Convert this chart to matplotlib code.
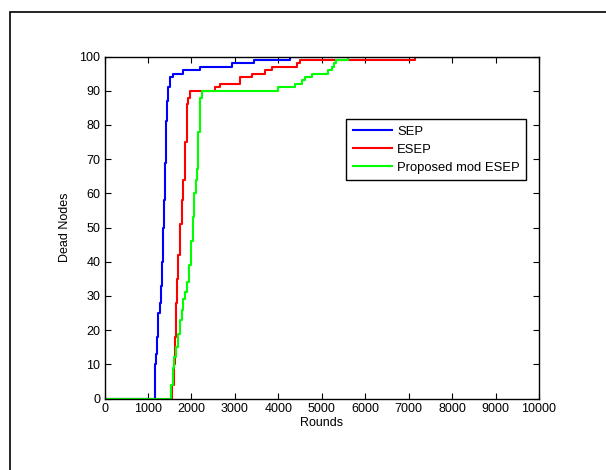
import matplotlib
matplotlib.use("Agg")
import matplotlib.pyplot as plt
from matplotlib.patches import Rectangle

plt.rcParams['font.family'] = ['Liberation Sans', 'DejaVu Sans']

# Step data: number of dead nodes from the given round onward
sep_rounds = [0, 1160, 1185, 1205, 1240, 1280, 1300, 1320, 1340, 1370, 1395, 1420,
              1445, 1470, 1505, 1585, 1815, 2200, 2930, 3440, 4270, 10000]
sep_dead = [0, 10, 13, 18, 25, 28, 33, 40, 50, 58, 69, 81,
            87, 91, 94, 95, 96, 97, 98, 99, 100, 100]

esep_rounds = [0, 1550, 1600, 1625, 1645, 1660, 1700, 1740, 1775, 1815, 1855, 1890,
               1930, 1970, 2545, 2660, 3130, 3390, 3695, 3850, 4425, 4500, 7150, 10000]
esep_dead = [0, 4, 10, 18, 28, 35, 42, 51, 58, 64, 75, 86,
             88, 90, 91, 92, 94, 95, 96, 97, 98, 99, 100, 100]

prop_rounds = [0, 1520, 1570, 1600, 1645, 1700, 1740, 1775, 1815, 1855, 1890, 1955,
               1985, 2030, 2065, 2105, 2125, 2160, 2200, 2240, 4000, 4390, 4540, 4620,
               4770, 5150, 5230, 5280, 5330, 5610, 10000]
prop_dead = [0, 4, 9, 12, 15, 19, 23, 26, 29, 31, 34, 39,
             46, 53, 60, 64, 67, 78, 88, 90, 91, 92, 93, 94,
             95, 96, 97, 98, 99, 100, 100]

series_labels = ['SEP', 'ESEP', 'Proposed mod ESEP']
series_colors = ['#0000ff', '#ff0000', '#00ff00']

x_ticks = list(range(0, 10001, 1000))
y_ticks = list(range(0, 101, 10))

fig = plt.figure(figsize=(6.06, 4.70), dpi=100)
ax = fig.add_axes([104.5 / 606, 1 - 398.5 / 470, 434.5 / 606, 342 / 470])

for xs, ys, lab, col in zip([sep_rounds, esep_rounds, prop_rounds],
                            [sep_dead, esep_dead, prop_dead],
                            series_labels, series_colors):
    ax.plot(xs, ys, drawstyle='steps-post', color=col, lw=1.5, label=lab)

ax.set_xlim(0, 10000)
ax.set_ylim(0, 100)
ax.set_xticks(x_ticks)
ax.set_yticks(y_ticks)
ax.tick_params(direction='in', top=True, right=True, length=4, width=0.8,
               labelsize=9, pad=3)
for s in ax.spines.values():
    s.set_linewidth(1.0)
ax.set_xlabel('Rounds', fontsize=9, labelpad=2)
ax.set_ylabel('Dead Nodes', fontsize=9, labelpad=6)

leg = ax.legend(loc='upper right', bbox_to_anchor=(0.971, 0.817), fontsize=9.4,
                frameon=True, fancybox=False, framealpha=1, edgecolor='black',
                handlelength=3.0, handletextpad=0.4, labelspacing=0.45,
                borderpad=0.5, borderaxespad=0)
leg.get_frame().set_linewidth(1.0)

fig.patches.append(Rectangle((10 / 606, -0.2), 1.5, 0.2 + 1 - 12 / 470,
                             transform=fig.transFigure, fill=False,
                             edgecolor='black', lw=1.2, clip_on=False))

fig.savefig('out.png', dpi=100)
